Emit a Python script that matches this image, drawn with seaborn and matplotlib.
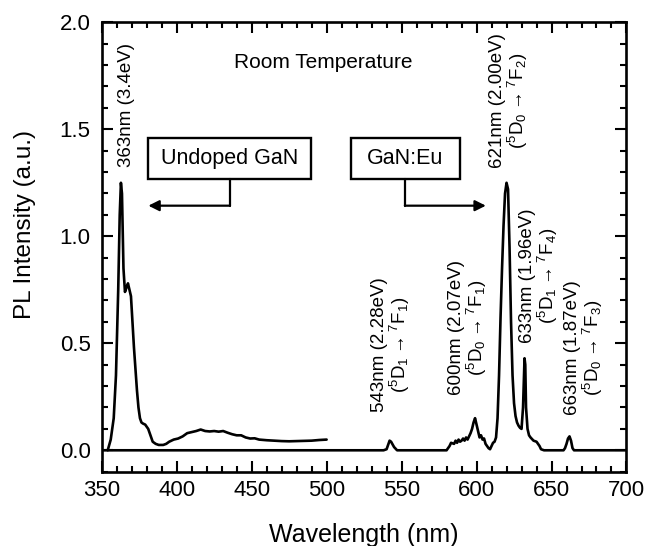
import matplotlib
matplotlib.use("Agg")
import matplotlib.pyplot as plt
import seaborn as sns
import pandas as pd
from matplotlib.ticker import MultipleLocator
from matplotlib.patches import Rectangle

# ---------------- data ----------------
undoped_nm = [354, 356, 358, 359.5, 361, 362, 362.8, 363.5, 364.5, 365.5, 366.5, 367.5,
              368.5, 369.5, 370.5, 371.5, 372.5, 373.5, 374.5, 375.5, 376.5, 377.5, 379,
              381, 382.5, 384, 386, 388, 391, 393, 395, 398, 401, 404, 407, 410, 413,
              416, 419, 422, 425, 428, 431, 434, 437, 440, 443, 446, 449, 452, 455, 460,
              465, 470, 475, 480, 485, 490, 495, 500]
undoped_pl = [0.0, 0.05, 0.15, 0.35, 0.75, 1.1, 1.25, 1.2, 0.85, 0.74, 0.76, 0.78,
              0.75, 0.72, 0.6, 0.48, 0.38, 0.28, 0.2, 0.15, 0.13, 0.125, 0.12,
              0.1, 0.07, 0.04, 0.03, 0.025, 0.025, 0.03, 0.04, 0.05, 0.055, 0.065, 0.08,
              0.085, 0.09, 0.097, 0.09, 0.088, 0.09, 0.087, 0.09, 0.082, 0.075, 0.07,
              0.07, 0.06, 0.055, 0.056, 0.05, 0.047, 0.045, 0.043, 0.042, 0.043, 0.044,
              0.045, 0.048, 0.05]

eu_nm = [350, 538, 540, 542, 543, 545, 547, 580, 582, 583, 585, 586, 587, 588, 589,
         590, 591, 592, 593, 594, 595, 596, 597, 598, 599, 600, 601, 602, 603, 604,
         605, 606, 607, 608, 609, 610, 611, 612, 613, 614, 615, 616, 617, 618, 619,
         620, 621, 622, 623, 624, 625, 626, 627, 628, 629, 630, 631, 632, 632.5, 633,
         634, 635, 636, 638, 640, 642, 643, 645, 658, 659, 660, 661, 662, 663, 664,
         665, 700]
eu_pl = [0.0, 0.0, 0.005, 0.045, 0.04, 0.015, 0.0, 0.0, 0.02, 0.035, 0.03, 0.045,
         0.035, 0.05, 0.04, 0.045, 0.055, 0.045, 0.06, 0.05, 0.065, 0.08, 0.1, 0.13,
         0.15, 0.12, 0.09, 0.06, 0.07, 0.05, 0.055, 0.03, 0.02, 0.01, 0.005, 0.02,
         0.035, 0.04, 0.06, 0.15, 0.35, 0.62, 0.85, 1.05, 1.2, 1.25, 1.22, 0.95, 0.6,
         0.35, 0.22, 0.16, 0.13, 0.115, 0.105, 0.1, 0.2, 0.43, 0.4, 0.2, 0.1, 0.07,
         0.06, 0.045, 0.04, 0.02, 0.005, 0.0, 0.0, 0.01, 0.03, 0.055, 0.065, 0.045,
         0.01, 0.0, 0.0]

x_ticks = [350, 400, 450, 500, 550, 600, 650, 700]
y_ticks = [0.0, 0.5, 1.0, 1.5, 2.0]

peak_texts = [
    "363nm (3.4eV)",
    "543nm (2.28eV)\n($^5$D$_1$$\\rightarrow$$^7$F$_1$)",
    "600nm (2.07eV)\n($^5$D$_0$$\\rightarrow$$^7$F$_1$)",
    "621nm (2.00eV)\n($^5$D$_0$$\\rightarrow$$^7$F$_2$)",
    "633nm (1.96eV)\n($^5$D$_1$$\\rightarrow$$^7$F$_4$)",
    "663nm (1.87eV)\n($^5$D$_0$$\\rightarrow$$^7$F$_3$)",
]
peak_pos = [(366.2, 1.325), (543.2, 0.18), (594.8, 0.257), (621.8, 1.318),
            (641.8, 0.50), (672.2, 0.165)]

undoped_df = pd.DataFrame({"Wavelength": undoped_nm, "PL": undoped_pl})
eu_df = pd.DataFrame({"Wavelength": eu_nm, "PL": eu_pl})

# ---------------- style ----------------
sns.set_style("ticks")
plt.rcParams["font.family"] = ["Liberation Sans", "DejaVu Sans"]
plt.rcParams["mathtext.default"] = "regular"
plt.rcParams["text.color"] = "black"
plt.rcParams["axes.labelcolor"] = "black"

fig = plt.figure(figsize=(6.58, 5.46), dpi=100)
ax = fig.add_axes([0.1546, 0.1361, 0.7975, 0.8231])

sns.lineplot(data=eu_df, x="Wavelength", y="PL", ax=ax, color="black", lw=1.9,
             sort=False, estimator=None)
sns.lineplot(data=undoped_df, x="Wavelength", y="PL", ax=ax, color="black", lw=1.9,
             sort=False, estimator=None)

ax.set_xlim(350, 700)
ax.set_ylim(-0.1, 2.0)
ax.set_xticks(x_ticks)
ax.set_yticks(y_ticks)
ax.set_yticklabels([f"{v:.1f}" for v in y_ticks])
ax.xaxis.set_minor_locator(MultipleLocator(10))
ax.yaxis.set_minor_locator(MultipleLocator(0.1))
ax.tick_params(which="both", direction="in", top=True, right=True, width=1.5,
               colors="black", labelsize=16)
ax.tick_params(which="major", length=8)
ax.tick_params(which="minor", length=4.5)
ax.tick_params(axis="x", which="major", pad=6)
ax.tick_params(axis="y", which="major", pad=8)
for s in ax.spines.values():
    s.set_linewidth(1.9)
    s.set_color("black")

ax.set_xlabel("Wavelength (nm)", fontsize=18, labelpad=16)
ax.set_ylabel("PL Intensity (a.u.)", fontsize=17.5)
ax.yaxis.set_label_coords(-0.125, 0.55)

ax.text(498, 1.81, "Room Temperature", fontsize=15, ha="center", va="center")

# labelled boxes with arrows
ax.add_patch(Rectangle((380.9, 1.268), 108.6, 0.19, fill=False, lw=1.7, ec="black"))
ax.text(435.2, 1.363, "Undoped GaN", fontsize=15.5, ha="center", va="center")
ax.add_patch(Rectangle((516.0, 1.268), 72.9, 0.19, fill=False, lw=1.7, ec="black"))
ax.text(552.4, 1.363, "GaN:Eu", fontsize=15.5, ha="center", va="center")

ax.plot([435.5, 435.5], [1.268, 1.143], color="black", lw=1.6)
ax.annotate("", xy=(381.1, 1.143), xytext=(435.5, 1.143),
            arrowprops=dict(arrowstyle="-|>", color="black", lw=1.6,
                            mutation_scale=16, shrinkA=0, shrinkB=0))
ax.plot([552.2, 552.2], [1.268, 1.143], color="black", lw=1.6)
ax.annotate("", xy=(606.2, 1.143), xytext=(552.2, 1.143),
            arrowprops=dict(arrowstyle="-|>", color="black", lw=1.6,
                            mutation_scale=16, shrinkA=0, shrinkB=0))

for txt, (px, py) in zip(peak_texts, peak_pos):
    ax.text(px, py, txt, rotation=90, fontsize=13.5, ha="center", va="bottom",
            multialignment="center", linespacing=1.0)

fig.savefig("out.png", dpi=100)
